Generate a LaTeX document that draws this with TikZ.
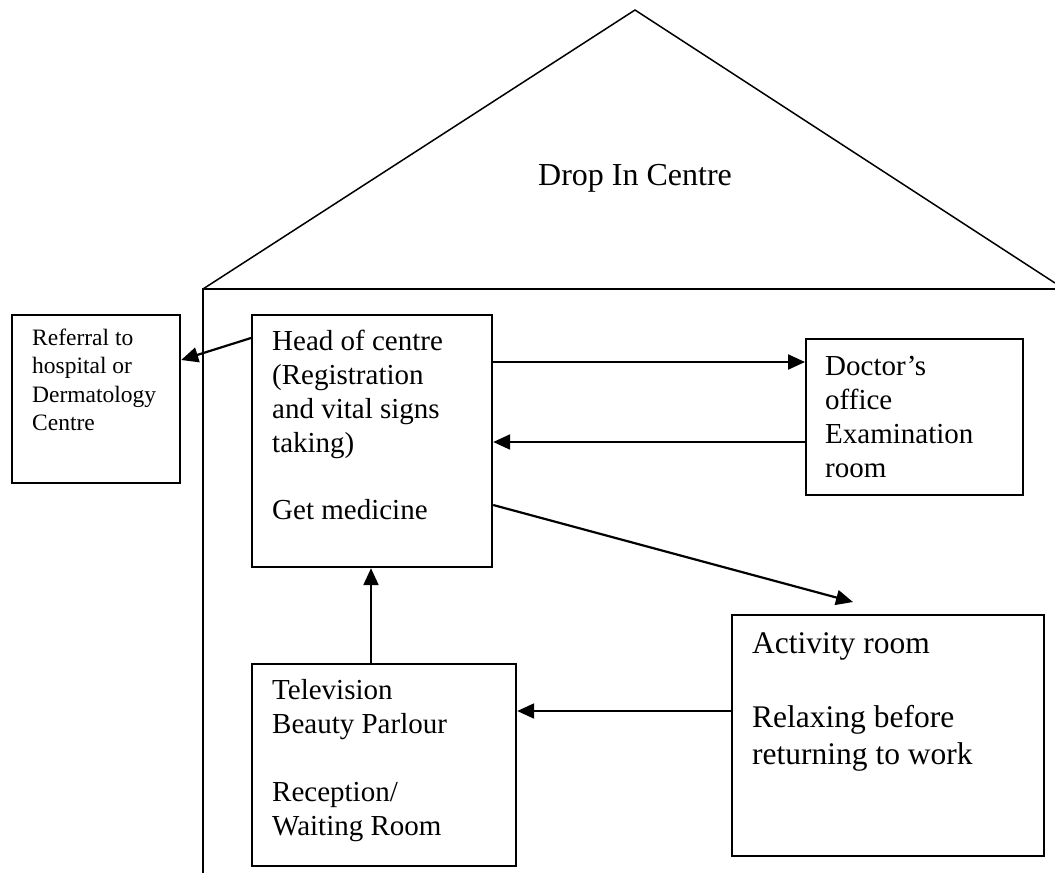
\documentclass[tikz,border=0pt]{standalone}
\usepackage{fontspec}
\setmainfont{Liberation Serif}
\usetikzlibrary{arrows.meta}

\tikzset{
  room/.style={draw, line width=2.2pt, inner sep=0pt, anchor=north west},
  % multi-line texts are placed by the baseline of their last line
  label/.style={anchor=base west, inner sep=0pt, align=left},
  flow/.style={line width=2.2pt, -{Triangle[length=17pt,width=15pt]}},
  roofline/.style={line width=1.5pt, line join=miter},
  wall/.style={line width=2.2pt},
  bigtext/.style={font=\fontsize{29}{34}\selectfont},
  smalltext/.style={font=\fontsize{23.5}{28.5}\selectfont},
  widetext/.style={font=\fontsize{31.5}{37}\selectfont},
}

\begin{document}
\begin{tikzpicture}[x=1pt, y=-1pt]
  \useasboundingbox (0,0) rectangle (1055,873);

  % house outline: roof, ceiling and left wall
  \coordinate (apex) at (635,10);
  \coordinate (eaveL) at (203,289);
  \coordinate (eaveR) at (1055,283);
  \coordinate (ceilR) at (1055,289);
  \coordinate (floorL) at (203,873);
  \draw[roofline] (eaveL) -- (apex) -- (eaveR);
  \draw[wall] (floorL) -- (eaveL) -- (ceilR);
  \node[anchor=base, inner sep=0pt, font=\fontsize{32}{38}\selectfont] (title) at (635,185) {Drop In Centre};

  % rooms
  \node[room, minimum width=168pt, minimum height=168pt] (refer) at (11,314) {};
  \node[room, minimum width=240pt, minimum height=252pt] (head) at (251,314) {};
  \node[room, minimum width=217pt, minimum height=156pt] (doctor) at (805,338) {};
  \node[room, minimum width=312pt, minimum height=241pt] (activity) at (731,614) {};
  \node[room, minimum width=264pt, minimum height=202pt] (tv) at (251,663) {};

  % room texts
  \node[label, smalltext] (refertxt) at (32,430.5) {Referral to\\hospital or\\Dermatology\\Centre};
  \node[label, bigtext] (headtxt) at (272,519) {Head of centre\\(Registration\\and vital signs\\taking)\\[33pt]Get medicine};
  \node[label, bigtext] (doctortxt) at (825,477) {Doctor’s\\office\\Examination\\room};
  \node[label, widetext] (activitytxt) at (752,764) {Activity room\\[37pt]Relaxing before\\returning to work};
  \node[label, bigtext] (tvtxt) at (272,835) {Television\\Beauty Parlour\\[34pt]Reception/\\Waiting Room};

  % movements between rooms
  \coordinate (toactivity) at (853,602);
  \draw[flow] ([yshift=-24pt]head.north west) -- ([yshift=-46pt]refer.north east);
  \draw[flow] ([yshift=-48pt]head.north east) -- ([yshift=-24pt]doctor.north west);
  \draw[flow] ([yshift=-104pt]doctor.north west) -- ([yshift=-128pt]head.north east);
  \draw[flow] ([yshift=-191pt]head.north east) -- (toactivity);
  \draw[flow] ([xshift=120pt]tv.north west) -- ([xshift=120pt]head.south west);
  \draw[flow] ([yshift=-97pt]activity.north west) -- ([yshift=-48pt]tv.north east);
\end{tikzpicture}
\end{document}
